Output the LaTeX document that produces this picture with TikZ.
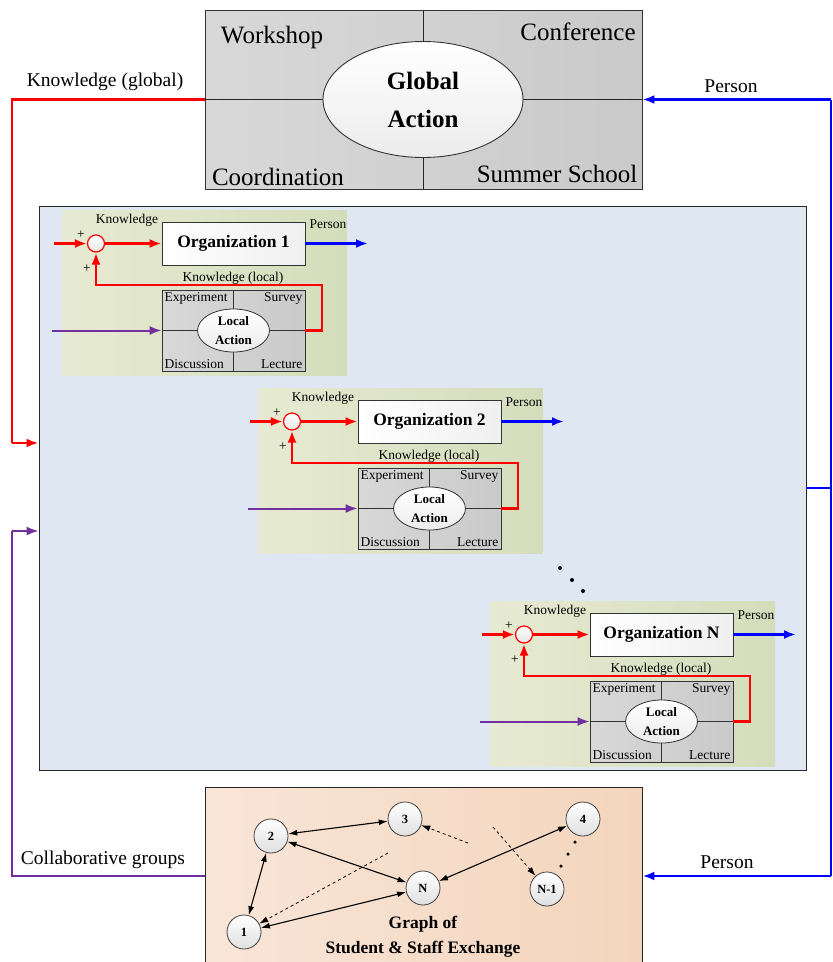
\documentclass[tikz,border=0pt]{standalone}
\usepackage{fontspec}
\setmainfont{Liberation Serif}
\usetikzlibrary{arrows.meta,shapes.geometric,calc}
\definecolor{bluebg}{RGB}{223,232,242}
\definecolor{greenL}{RGB}{231,234,210}
\definecolor{greenR}{RGB}{212,221,187}
\definecolor{peachL}{RGB}{249,229,216}
\definecolor{peachR}{RGB}{243,213,188}
\definecolor{grayL}{RGB}{216,216,216}
\definecolor{grayR}{RGB}{202,202,202}
\definecolor{pflow}{RGB}{112,48,160}
\tikzset{
 tip/.style={-{Latex[length=12pt,width=9pt]}},
 redflow/.style={draw=red,line width=2.4pt,tip},
 blueflow/.style={draw=blue,line width=2.4pt,tip},
 purpleflow/.style={draw=pflow,line width=2pt,tip},
 redline/.style={draw=red,line width=2.4pt},
 blueline/.style={draw=blue,line width=2.4pt},
 purpleline/.style={draw=pflow,line width=2pt},
 greenbg/.style={rectangle,inner sep=0,minimum width=285pt,minimum height=165pt,left color=greenL,right color=greenR,draw=none},
 orgbox/.style={rectangle,inner sep=0,minimum width=143pt,minimum height=43pt,left color=white,right color=gray!12,draw=black!80,line width=0.8pt,font=\fontsize{17.5}{20}\selectfont\bfseries},
 sumc/.style={circle,inner sep=0,minimum size=17pt,draw=red,line width=1.2pt,top color=white,bottom color=gray!20},
 localbox/.style={rectangle,inner sep=0,minimum width=143pt,minimum height=81pt,left color=grayL,right color=grayR,draw=black!80,line width=0.8pt},
 localell/.style={ellipse,inner sep=0,minimum width=72pt,minimum height=43pt,top color=white,bottom color=gray!15,draw=black!80,line width=0.8pt,align=center,font=\fontsize{13}{19}\selectfont\bfseries},
 small/.style={inner sep=1.5pt,font=\fontsize{13.5}{16}\selectfont},
 qlab/.style={inner sep=2.8pt,font=\fontsize{13.5}{16}\selectfont},
 mid/.style={inner sep=0,font=\fontsize{19.5}{22}\selectfont},
 big/.style={inner sep=0,font=\fontsize{25}{28}\selectfont},
 gnode/.style={circle,inner sep=0,minimum size=34pt,draw=black!75,line width=0.8pt,top color=white,bottom color=gray!25,font=\fontsize{12.5}{14}\selectfont\bfseries},
 gedge/.style={draw=black,line width=1.1pt,{Latex[length=9pt,width=6pt]}-{Latex[length=9pt,width=6pt]}},
 gdash/.style={draw=black,line width=0.8pt,dashed,-{Latex[length=9pt,width=6pt]}},
 dotmark/.style={circle,fill=black,inner sep=0,minimum size=4pt}
}
\newcommand\orgblk[4]{%
\begin{scope}[shift={(#1,#2)}]
 \node[greenbg] (bg#4) at (204.5,292.5) {};
 \node[orgbox] (o#4) at (233.5,243.5) {#3};
 \node[sumc] (s#4) at (96,243.5) {};
 \coordinate (in#4) at (54,243.5);
 \coordinate (out#4) at (368,243.5);
 \coordinate (pin#4) at (52,330.5);
 \node[localbox] (l#4) at (233.5,330.5) {};
 \draw[black!80,line width=0.8pt] (l#4.north) -- (l#4.south) (l#4.west) -- (l#4.east);
 \node[localell] (e#4) at (233.5,330.5) {Local\\Action};
 \node[qlab,anchor=north west] (ex#4) at (l#4.north west) {Experiment};
 \node[qlab,anchor=north east] (su#4) at (l#4.north east) {Survey};
 \node[qlab,anchor=south west] (di#4) at (l#4.south west) {Discussion};
 \node[qlab,anchor=south east] (le#4) at (l#4.south east) {Lecture};
 \node[small] (kn#4) at (127,220) {Knowledge};
 \node[small] (pe#4) at (328,224) {Person};
 \node[small] (pa#4) at (81,235) {+};
 \node[small] (pb#4) at (87,269) {+};
 \node[small] (kl#4) at (233,278) {Knowledge (local)};
 \coordinate (fa#4) at (322,330.5);
 \coordinate (fb#4) at (322,285);
 \draw[redflow] (in#4) -- (s#4);
 \draw[redflow] (s#4) -- (o#4);
 \draw[blueflow] (o#4) -- (out#4);
 \draw[purpleflow] (pin#4) -- (l#4);
 \draw[redflow] (l#4.east) -- (fa#4) -- (fb#4) -- (fb#4 -| s#4) -- (s#4);
\end{scope}}
\begin{document}
\begin{tikzpicture}[x=1pt,y=-1pt]
\useasboundingbox (0,0) rectangle (833,962);
\clip (0,0) rectangle (833,962);
% global action box
\node[rectangle,inner sep=0,minimum width=437pt,minimum height=179pt,left color=grayL,right color=grayR,draw=black!80,line width=0.9pt] (gb) at (423.5,99.5) {};
\draw[black!85,line width=0.9pt] (gb.north) -- (gb.south) (gb.west) -- (gb.east);
\node[ellipse,inner sep=0,minimum width=200pt,minimum height=116pt,top color=white,bottom color=gray!15,draw=black!80,line width=0.9pt,align=center,font=\fontsize{25}{38}\selectfont\bfseries] (ga) at (423,99.5) {Global\\Action};
\node[big] (ws) at (272,37) {Workshop};
\node[big] (cf) at (578,32) {Conference};
\node[big] (co) at (278,177) {Coordination};
\node[big] (ss) at (557,174) {Summer School};
% big blue box
\node[rectangle,inner sep=0,minimum width=767pt,minimum height=564pt,fill=bluebg,draw=black!85,line width=0.9pt] (bb) at (422.5,488) {};
\orgblk{0}{0}{Organization 1}{1}
\orgblk{196}{178}{Organization 2}{2}
\orgblk{428}{391}{Organization N}{3}
\node[dotmark] (d1) at (560,568) {};
\node[dotmark] (d2) at (572,580) {};
\node[dotmark] (d3) at (583,591) {};
% graph box
\node[rectangle,inner sep=0,minimum width=437pt,minimum height=190pt,left color=peachL,right color=peachR,draw=black!85,line width=0.9pt] (gr) at (423.5,882) {};
\node[gnode] (n2) at (271,836) {2};
\node[gnode] (n3) at (405,819) {3};
\node[gnode] (n4) at (583,819) {4};
\node[gnode] (nN) at (423,888) {N};
\node[gnode] (nN1) at (547,889) {N-1};
\node[gnode] (n1) at (244,932) {1};
\draw[gedge] (n2) -- (n3);
\draw[gedge] (n2) -- (nN);
\draw[gedge] (n2) -- (n1);
\draw[gedge] (n1) -- (nN);
\draw[gedge] (nN) -- (n4);
\coordinate (da) at (388,853);
\coordinate (db) at (468,843);
\coordinate (dc) at (493,827);
\draw[gdash] (da) -- (n1);
\draw[gdash] (db) -- (n3);
\draw[gdash] (dc) -- (nN1);
\node[dotmark,minimum size=3.5pt] (g1) at (575,842) {};
\node[dotmark,minimum size=3.5pt] (g2) at (568,854) {};
\node[dotmark,minimum size=3.5pt] (g3) at (561,866) {};
\node[align=center,inner sep=0,font=\fontsize{17.5}{25}\selectfont\bfseries] (gt) at (423,936.5) {Graph of\\Student \& Staff Exchange};
% outer connectors
\coordinate (r1) at (12,99.5);
\coordinate (r2) at (12,443);
\draw[redline] (gb.west) -- (r1) -- (r2);
\draw[redflow] (r2) -- (r2 -| bb.west);
\node[mid] (kg) at (105,82) {Knowledge (global)};
\coordinate (p1) at (12,876);
\coordinate (p2) at (12,531);
\draw[purpleline] (gr.west |- p1) -- (p1) -- (p2);
\draw[purpleflow] (p2) -- (p2 -| bb.west);
\node[mid] (cg) at (103,860) {Collaborative groups};
\coordinate (b1) at (831,99.5);
\coordinate (b2) at (831,876);
\coordinate (b3) at (831,488);
\draw[draw=blue,line width=1.2pt] (b1) -- (b2);
\draw[blueline] (bb.east) -- (b3);
\draw[blueflow] (b1) -- (gb.east);
\draw[blueflow] (b2) -- (b2 -| gr.east);
\node[mid] (pg) at (731,86) {Person};
\node[mid] (pr) at (727,862) {Person};
\end{tikzpicture}
\end{document}
